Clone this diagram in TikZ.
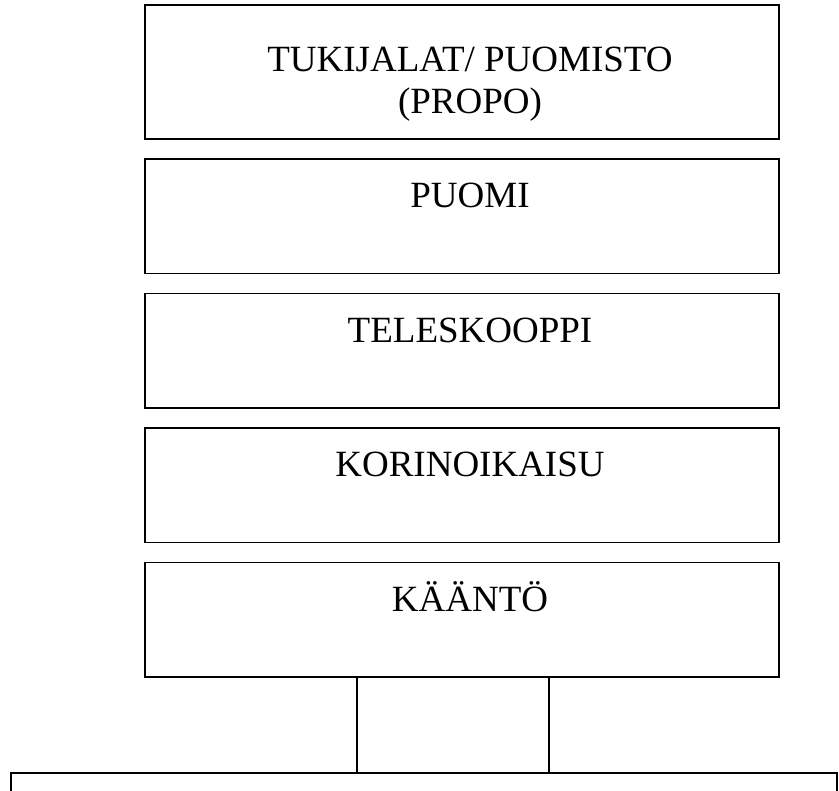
\documentclass[tikz,border=0pt]{standalone}
\usepackage{fontspec}
\setmainfont{Liberation Serif}
\usepackage{tikz}
\usetikzlibrary{positioning}

\begin{document}
\begin{tikzpicture}[
    x=1pt, y=1pt,
    node distance=20pt,
    part/.style={rectangle, draw, line width=1.8pt, outer sep=0pt, minimum width=634pt, minimum height=114.5pt},
    caption/.style={font=\fontsize{37}{42}\selectfont, inner sep=0pt, anchor=base, align=center},
]
\clip (0,0) rectangle (839,-791);

% stacked parts
\node[part, minimum height=134pt] (tuki) at (462,-72) {};
\node[part, below=of tuki] (puomi) {};
\node[part, below=of puomi] (tele) {};
\node[part, below=of tele] (kori) {};
\node[part, below=of kori] (kaanto) {};

% column and base
\node[part, minimum width=192pt, minimum height=96pt, below=0pt of kaanto, xshift=-9pt] (pylvas) {};
\node[part, minimum width=826pt, minimum height=40pt, below=0pt of pylvas, xshift=-29pt] (alusta) {};

% texts
\node[caption] (tukitxt) at ([xshift=8pt, yshift=-109pt]tuki.north) {TUKIJALAT/ PUOMISTO\\(PROPO)};
\node[caption] (puomitxt) at ([xshift=8pt, yshift=-49pt]puomi.north) {PUOMI};
\node[caption] (teletxt) at ([xshift=8pt, yshift=-49pt]tele.north) {TELESKOOPPI};
\node[caption] (koritxt) at ([xshift=8pt, yshift=-49pt]kori.north) {KORINOIKAISU};
\node[caption] (kaantotxt) at ([xshift=8pt, yshift=-49pt]kaanto.north) {KÄÄNTÖ};

\end{tikzpicture}
\end{document}
